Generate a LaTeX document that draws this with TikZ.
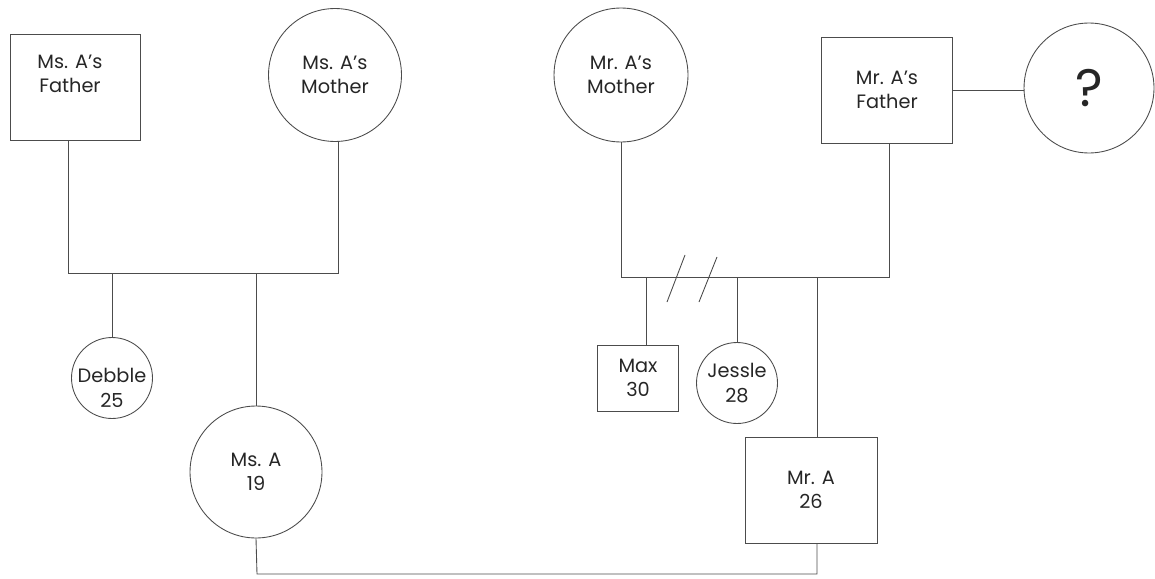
\documentclass[tikz,border=0pt]{standalone}
\usepackage{fontspec}
\setmainfont{Poppins}
\begin{document}
\begin{tikzpicture}[x=0.02cm,y=-0.02cm,
  ln/.style={draw=black!70, line width=0.5pt},
  txt/.style={align=center, font=\fontsize{11}{14}\selectfont, text=black!85, inner sep=0pt},
  person/.style={ln, txt},
  male/.style={person, rectangle},
  female/.style={person, circle},
]
\useasboundingbox (0,0) rectangle (1155,578);

% grandparents
\node[male, minimum width=2.6cm, minimum height=2.12cm,
      label={[txt, name=msaft, yshift=0.26cm, xshift=-0.1cm]center:{Ms. A's\\Father}}] (msaf) at (75,87) {};
\node[female, minimum size=2.66cm] (msam) at (335,75) {Ms. A's\\Mother};
\node[female, minimum size=2.68cm] (mram) at (621,75) {Mr. A's\\Mother};
\node[male, minimum width=2.62cm, minimum height=2.12cm] (mraf) at (887,90) {Mr. A's\\Father};
\node[female, minimum size=2.6cm, font=\fontsize{30}{30}\selectfont\rmfamily] (q) at (1089,88) {?};

% children
\node[female, minimum size=1.62cm,
      label={[txt, name=debt, yshift=-0.2cm]center:{Debble\\25}}] (deb) at (112,378) {};
\node[female, minimum size=2.64cm] (msa) at (256,472) {Ms. A\\19};
\node[male, minimum width=1.62cm, minimum height=1.32cm] (max) at (638,378) {Max\\30};
\node[female, minimum size=1.62cm] (jes) at (737,383) {Jessle\\28};
\node[male, minimum width=2.64cm, minimum height=2.12cm] (mra) at (811,490) {Mr. A\\26};

% junction coordinates
\coordinate (lbL) at (68,273);
\coordinate (lbR) at (338,273);
\coordinate (rbL) at (621,277);
\coordinate (rbR) at (889,277);
\coordinate (maxj) at (646,277);
\coordinate (mraj) at (817,277);
\coordinate (botL) at (257,574);
\coordinate (botR) at (817,574);
\coordinate (s1a) at (667,302);
\coordinate (s1b) at (685,255);
\coordinate (s2a) at (699,302);
\coordinate (s2b) at (717,257);

% left family
\draw[ln] (msaf.south -| lbL) -- (lbL) -- (lbR) -- (msam.south -| lbR);
\draw[ln] (deb.north |- lbL) -- (deb.north);
\draw[ln] (msa.north |- lbL) -- (msa.north);

% right family
\draw[ln] (mram.south) -- (rbL) -- (rbR) -- (mraf.south -| rbR);
\draw[ln] (mraf.east) -- (mraf.east -| q.west);
\draw[ln] (maxj) -- (max.north -| maxj);
\draw[ln] (jes.north |- rbL) -- (jes.north);
\draw[ln] (mraj) -- (mra.north -| mraj);
\draw[ln] (s1a) -- (s1b);
\draw[ln] (s2a) -- (s2b);

% marriage
\draw[ln] (msa.south) -- (botL) -- (botR) -- (mra.south -| botR);
\end{tikzpicture}
\end{document}
